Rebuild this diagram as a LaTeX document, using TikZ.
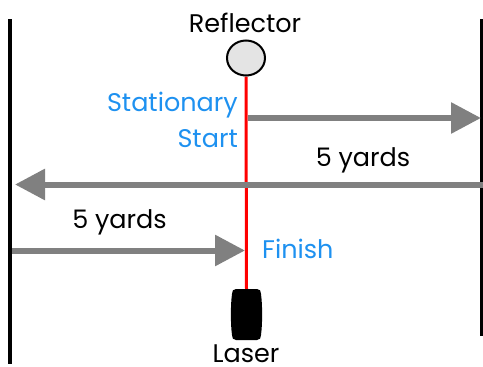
\documentclass[tikz,border=0pt]{standalone}
\usepackage{fontspec}
\setmainfont{Poppins}
\usetikzlibrary{arrows.meta,shapes.geometric}
\definecolor{lblue}{RGB}{30,145,240}
\definecolor{agray}{RGB}{128,128,128}
\definecolor{cfill}{RGB}{228,228,228}
\tikzset{
  wall/.style={line width=4pt, black},
  beam/.style={line width=3pt, red},
  move/.style={line width=6pt, agray, -{Triangle[length=30pt,width=30pt]}},
  lbl/.style={font=\fontsize{25.5}{30}\selectfont, inner sep=0pt, anchor=base},
  blbl/.style={lbl, text=lblue},
}
\begin{document}
\begin{tikzpicture}[x=1pt,y=-1pt]
\useasboundingbox (0,0) rectangle (483,367);
% walls
\coordinate (lt) at (10,19);
\coordinate (lb) at (10,364);
\coordinate (rt) at (481.5,19);
\coordinate (rb) at (481.5,336);
\draw[wall] (lt) -- (lb);
\draw[wall] (rt) -- (rb);
% reflector and laser
\node[ellipse, minimum width=40pt, minimum height=37pt, inner sep=0pt] (refl) at (246,58) {};
\node[rectangle, minimum width=29pt, minimum height=51pt, inner sep=0pt] (laser) at (246.5,314.5) {};
\draw[beam] (refl.south) -- (laser.north);
\node[ellipse, draw=black, line width=2pt, fill=cfill, minimum width=38pt, minimum height=35pt, inner sep=0pt] at (refl) {};
\fill[black] (236,289) -- (257,289) .. controls (260,289) and (261,291) .. (261,294)
  .. controls (262.5,305) and (262.5,324) .. (261,335)
  .. controls (261,338) and (260,340) .. (257,340) -- (236,340)
  .. controls (233,340) and (232,338) .. (232,335)
  .. controls (230.5,324) and (230.5,305) .. (232,294)
  .. controls (232,291) and (233,289) .. (236,289) -- cycle;
% labels
\node[lbl] (treflector) at (245,32) {Reflector};
\node[lbl] (tlaser) at (246,362) {Laser};
\node[blbl, anchor=base east] (tstat) at (238,111) {Stationary};
\node[blbl, anchor=base east] (tstart) at (238,147) {Start};
\node[blbl, anchor=base west] (tfinish) at (262,258) {Finish};
\node[lbl] (ty1) at (363,166) {5 yards};
\node[lbl] (ty2) at (119.5,228) {5 yards};
% arrows
\coordinate (a1s) at (248,118);
\coordinate (a1e) at (481,118);
\coordinate (a2s) at (483,184.5);
\coordinate (a2e) at (15,184.5);
\coordinate (a3s) at (12,250.5);
\coordinate (a3e) at (245,250.5);
\draw[move] (a1s) -- (a1e);
\draw[move] (a2s) -- (a2e);
\draw[move] (a3s) -- (a3e);
\end{tikzpicture}
\end{document}
